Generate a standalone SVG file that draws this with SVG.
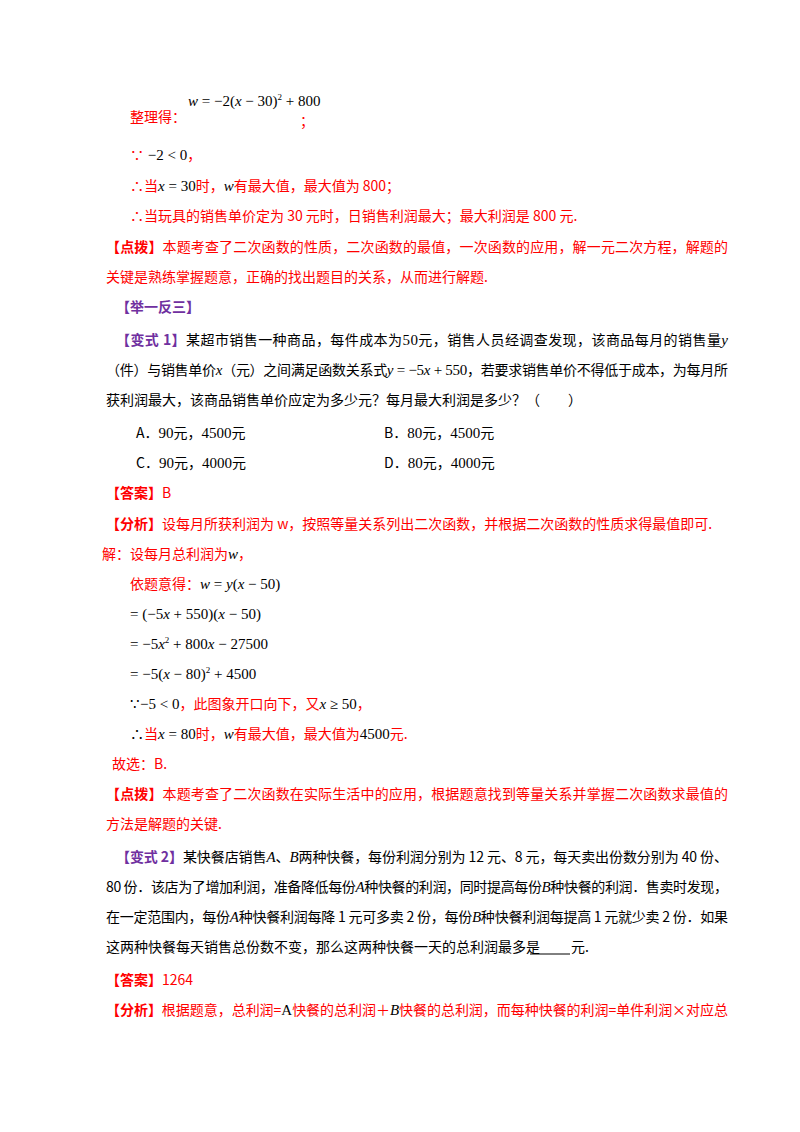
<svg xmlns="http://www.w3.org/2000/svg" width="800" height="1132" viewBox="0 0 800 1132">
<style>
text{font-family:"Noto Sans CJK SC","Liberation Sans",sans-serif;font-size:14px;fill:#000}
.r{fill:#ff0000}
.p{fill:#7030a0;font-weight:bold}
.m{font-family:"Liberation Serif",serif;font-size:15px}
.i{font-style:italic}
</style>
<rect width="800" height="1132" fill="#fff"/>
<g id="content">
<text x="130" y="122" class="r">整理得：</text>
<text x="188" y="106" class="m" font-size="14"><tspan class="i">w</tspan> = −2(<tspan class="i">x</tspan> − 30)<tspan font-size="9" dy="-6">2</tspan><tspan dy="6"> + 800</tspan></text>
<text x="300" y="126" class="r">；</text>
<text x="130" y="160"><tspan class="r">∵</tspan><tspan class="m"> −2 &lt; 0</tspan><tspan class="r">，</tspan></text>
<text x="130" y="191" class="r">∴当<tspan class="m i" fill="#000">x</tspan><tspan class="m" fill="#000"> = 30</tspan>时，<tspan class="m i" fill="#000">w</tspan>有最大值，最大值为 800；</text>
<text x="130" y="221" class="r">∴当玩具的销售单价定为 30 元时，日销售利润最大；最大利润是 800 元.</text>
<text x="106" y="252" class="r" textLength="622"><tspan font-weight="bold">【点拨】</tspan>本题考查了二次函数的性质，二次函数的最值，一次函数的应用，解一元二次方程，解题的</text>
<text x="106" y="282" class="r">关键是熟练掌握题意，正确的找出题目的关系，从而进行解题.</text>
<text x="116" y="312" class="p">【举一反三】</text>
<text x="116" y="345" textLength="612"><tspan class="p">【变式 1】</tspan>某超市销售一种商品，每件成本为<tspan class="m">50</tspan>元，销售人员经调查发现，该商品每月的销售量<tspan class="m i">y</tspan></text>
<text x="106" y="375" textLength="622">（件）与销售单价<tspan class="m i">x</tspan>（元）之间满足函数关系式<tspan class="m"><tspan class="i">y</tspan> = −5<tspan class="i">x</tspan> + 550</tspan>，若要求销售单价不得低于成本，为每月所</text>
<text x="106" y="405">获利润最大，该商品销售单价应定为多少元？每月最大利润是多少？（　　）</text>
<text x="136" y="438">A．<tspan class="m">90</tspan>元，<tspan class="m">4500</tspan>元</text>
<text x="384" y="438">B．<tspan class="m">80</tspan>元，<tspan class="m">4500</tspan>元</text>
<text x="136" y="468">C．<tspan class="m">90</tspan>元，<tspan class="m">4000</tspan>元</text>
<text x="384" y="468">D．<tspan class="m">80</tspan>元，<tspan class="m">4000</tspan>元</text>
<text x="106" y="498" class="r"><tspan font-weight="bold">【答案】</tspan>B</text>
<text x="106" y="529" class="r"><tspan font-weight="bold">【分析】</tspan>设每月所获利润为 w，按照等量关系列出二次函数，并根据二次函数的性质求得最值即可.</text>
<text x="102" y="559" class="r">解：设每月总利润为<tspan class="m i" fill="#000">w</tspan>，</text>
<text x="130" y="589" class="r">依题意得：<tspan class="m" fill="#000"><tspan class="i">w</tspan> = <tspan class="i">y</tspan>(<tspan class="i">x</tspan> − 50)</tspan></text>
<text x="130" y="619" class="m">= (−5<tspan class="i">x</tspan> + 550)(<tspan class="i">x</tspan> − 50)</text>
<text x="130" y="649" class="m">= −5<tspan class="i">x</tspan><tspan font-size="9" dy="-6">2</tspan><tspan dy="6"> + 800</tspan><tspan class="i">x</tspan> − 27500</text>
<text x="130" y="679" class="m">= −5(<tspan class="i">x</tspan> − 80)<tspan font-size="9" dy="-6">2</tspan><tspan dy="6"> + 4500</tspan></text>
<text x="130" y="709" class="r"><tspan class="m" fill="#000">∵−5 &lt; 0</tspan>，此图象开口向下，又<tspan class="m" fill="#000"><tspan class="i">x</tspan> ≥ 50</tspan>，</text>
<text x="130" y="739" class="r"><tspan fill="#000">∴</tspan>当<tspan class="m" fill="#000"><tspan class="i">x</tspan> = 80</tspan>时，<tspan class="m i" fill="#000">w</tspan>有最大值，最大值为<tspan class="m" fill="#000">4500</tspan>元.</text>
<text x="112" y="769" class="r">故选：B.</text>
<text x="106" y="799" class="r" textLength="622"><tspan font-weight="bold">【点拨】</tspan>本题考查了二次函数在实际生活中的应用，根据题意找到等量关系并掌握二次函数求最值的</text>
<text x="106" y="829" class="r">方法是解题的关键.</text>
<text x="116" y="862" textLength="612"><tspan class="p">【变式 2】</tspan>某快餐店销售<tspan class="m i">A</tspan>、<tspan class="m i">B</tspan>两种快餐，每份利润分别为 12 元、8 元，每天卖出份数分别为 40 份、</text>
<text x="106" y="892" textLength="622">80 份．该店为了增加利润，准备降低每份<tspan class="m i">A</tspan>种快餐的利润，同时提高每份<tspan class="m i">B</tspan>种快餐的利润．售卖时发现，</text>
<text x="106" y="922" textLength="622">在一定范围内，每份<tspan class="m i">A</tspan>种快餐利润每降 1 元可多卖 2 份，每份<tspan class="m i">B</tspan>种快餐利润每提高 1 元就少卖 2 份．如果</text>
<text x="106" y="952">这两种快餐每天销售总份数不变，那么这两种快餐一天的总利润最多是</text>
<line x1="530" y1="954" x2="570" y2="954" stroke="#000" stroke-width="1"/>
<text x="571" y="952">元.</text>
<text x="106" y="985" class="r"><tspan font-weight="bold">【答案】</tspan>1264</text>
<text x="106" y="1015" class="r" textLength="622"><tspan font-weight="bold">【分析】</tspan>根据题意，总利润=<tspan class="m" fill="#000">A</tspan>快餐的总利润＋<tspan class="m i" fill="#000">B</tspan>快餐的总利润，而每种快餐的利润=单件利润×对应总</text>
</g>
</svg>
